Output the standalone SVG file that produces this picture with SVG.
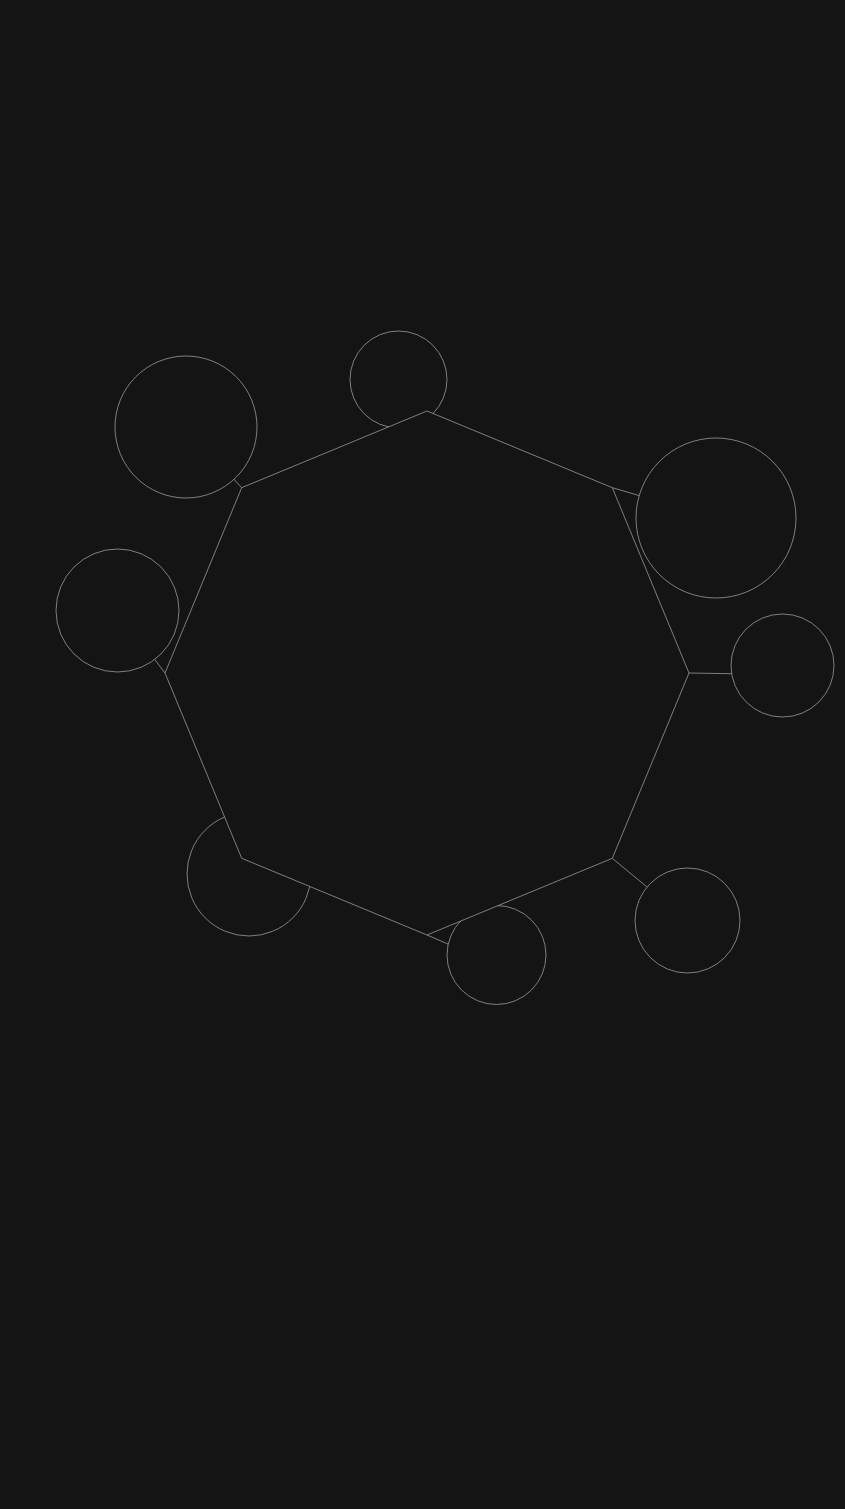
<svg xmlns="http://www.w3.org/2000/svg" width="845" height="1509" viewBox="0 0 845 1509">
<style>
.edge{stroke:#9a9a9a;stroke-width:0.8;fill:none}
.node{fill:#141414;stroke:#9a9a9a;stroke-width:0.8}
.hub{fill:#141414;stroke:#9a9a9a;stroke-width:0.8}
</style>
<rect width="845" height="1509" fill="#141414"/>
<g id="connectors">
<line class="edge" x1="427" y1="411" x2="398.5" y2="379.5"/>
<line class="edge" x1="612.3" y1="487.7" x2="716" y2="518"/>
<line class="edge" x1="689" y1="673" x2="782.5" y2="674.5"/>
<line class="edge" x1="612.3" y1="858.3" x2="687.5" y2="920.5"/>
<line class="edge" x1="427" y1="935" x2="496.5" y2="965"/>
<line class="edge" x1="241.7" y1="858.3" x2="249" y2="874"/>
<line class="edge" x1="165" y1="673" x2="117.5" y2="610.5"/>
<line class="edge" x1="241.7" y1="487.7" x2="186" y2="427"/>
</g>
<g id="n1"><circle class="node" cx="398.5" cy="379.5" r="48.5"/></g>
<g id="n2"><circle class="node" cx="716" cy="518" r="80"/></g>
<g id="n3"><circle class="node" cx="782.5" cy="665.5" r="51.5"/></g>
<g id="n4"><circle class="node" cx="687.5" cy="920.5" r="52.5"/></g>
<g id="n5"><circle class="node" cx="496.5" cy="955" r="49.5"/></g>
<g id="n6"><circle class="node" cx="249" cy="874" r="62"/></g>
<g id="n7"><circle class="node" cx="117.5" cy="610.5" r="61.5"/></g>
<g id="n8"><circle class="node" cx="186" cy="427" r="71"/></g>
<g id="hub"><polygon class="hub" points="427,411 612.3,487.7 689,673 612.3,858.3 427,935 241.7,858.3 165,673 241.7,487.7"/></g>
</svg>
